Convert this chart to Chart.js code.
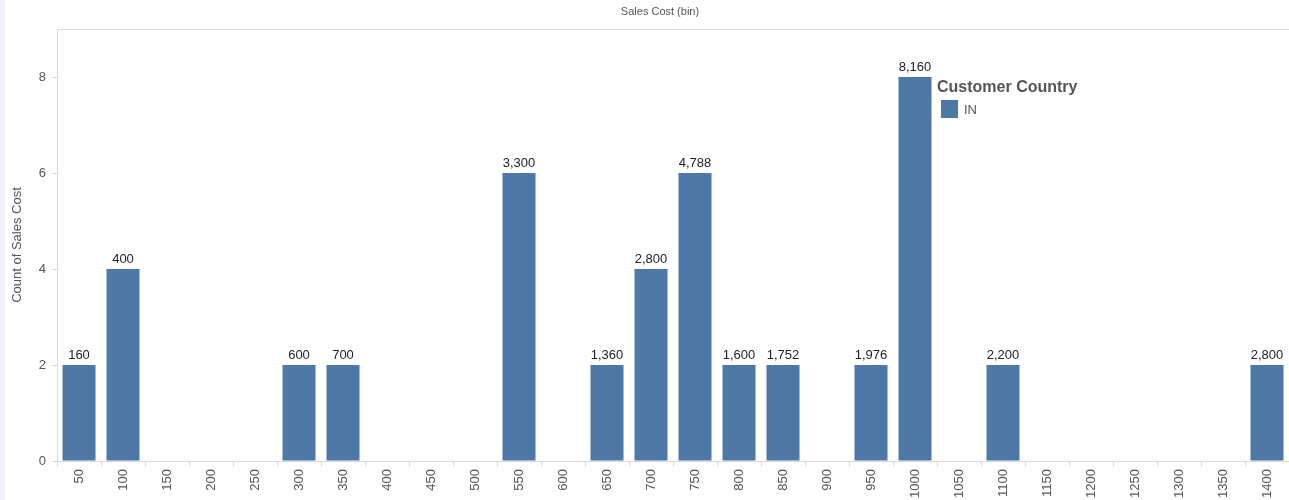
<!DOCTYPE html>
<html>
<head>
<meta charset="UTF-8">
<title>Sales Cost (bin)</title>
<script src="https://cdn.jsdelivr.net/npm/chart.js"></script>
<style>
  html, body { margin: 0; padding: 0; background: #fff; }
  #wrap { position: relative; width: 1289px; height: 500px; }
  #wrap:before { content: ""; position: absolute; left: 0; top: 0; width: 5px; height: 500px; background: #eef2f6; }
  #legend { position: absolute; left: 937px; top: 78px; font-family: "Liberation Sans", Arial, sans-serif; color: #555; }
  #legend .ttl { font-weight: bold; font-size: 16px; }
  #legend .row { margin-top: 4px; margin-left: 4px; font-size: 13px; display: flex; align-items: center; }
  #legend .sw { width: 17px; height: 18px; background: #4e79a7; margin-right: 6px; }
</style>
</head>
<body>
<div id="wrap">
  <canvas id="salesChart" width="1289" height="500"></canvas>
  <div id="legend"><div class="ttl">Customer Country</div><div class="row"><span class="sw"></span>IN</div></div>
</div>
<script>
// bins of sales cost
var bins = ['50','100','150','200','250','300','350','400','450','500','550','600','650','700',
            '750','800','850','900','950','1000','1050','1100','1150','1200','1250','1300','1350','1400'];
// count of sales cost per bin
var counts = [2,4,null,null,null,2,2,null,null,null,6,null,2,4,
              6,2,2,null,2,8,null,2,null,null,null,null,null,2];
// sum of sales cost shown on top of each bar
var sums = ['160','400','','','','600','700','','','','3,300','','1,360','2,800',
            '4,788','1,600','1,752','','1,976','8,160','','2,200','','','','','','2,800'];
var yTicks = [0,2,4,6,8];

var fontFam = '"Liberation Sans", Arial, sans-serif';

var textPlugin = {
    id: 'texts',
    afterDraw: function(chart){
        var ctx = chart.ctx, area = chart.chartArea;
        ctx.save();
        // top border
        ctx.strokeStyle = '#d9d9d9';
        ctx.lineWidth = 1;
        ctx.beginPath();
        ctx.moveTo(area.left, area.top + 0.5);
        ctx.lineTo(area.right, area.top + 0.5);
        ctx.stroke();
        // title
        ctx.fillStyle = '#555';
        ctx.font = '11px ' + fontFam;
        ctx.textAlign = 'center';
        ctx.textBaseline = 'middle';
        ctx.fillText('Sales Cost (bin)', 660, 12);
        // y axis title
        ctx.save();
        ctx.translate(17, 245);
        ctx.rotate(-Math.PI / 2);
        ctx.font = '13px ' + fontFam;
        ctx.fillText('Count of Sales Cost', 0, 0);
        ctx.restore();
        // value labels
        var meta = chart.getDatasetMeta(0);
        ctx.fillStyle = '#222';
        ctx.font = '13px ' + fontFam;
        ctx.textBaseline = 'bottom';
        meta.data.forEach(function(bar, i){
            if (counts[i] == null) return;
            ctx.fillText(sums[i], bar.x, bar.y - 3);
        });
        ctx.restore();
    }
};

var ctx = document.getElementById('salesChart').getContext('2d');
var salesChart = new Chart(ctx, {
    type: 'bar',
    data: {
        labels: bins,
        datasets: [{
            label: 'IN',
            data: counts,
            backgroundColor: '#4e79a7',
            categoryPercentage: 1,
            barPercentage: 0.75
        }]
    },
    options: {
        responsive: false,
        animation: false,
        layout: { padding: { top: 29, right: 0, left: 0, bottom: 0 } },
        plugins: {
            legend: { display: false },
            tooltip: { enabled: false }
        },
        scales: {
            x: {
                grid: { offset: true, drawOnChartArea: false, tickLength: 6, color: '#d9d9d9' },
                border: { color: '#d9d9d9' },
                ticks: {
                    minRotation: 90, maxRotation: 90, padding: 2,
                    color: '#555', font: { size: 13, family: fontFam }
                },
                afterFit: function(s){ s.height = 39; }
            },
            y: {
                min: 0, max: 9,
                afterBuildTicks: function(s){ s.ticks = yTicks.map(function(v){ return {value: v}; }); },
                grid: { drawOnChartArea: false, tickLength: 5, color: '#d9d9d9' },
                border: { color: '#d9d9d9' },
                ticks: { color: '#555', padding: 6, font: { size: 13, family: fontFam } },
                afterFit: function(s){ s.width = 57; }
            }
        }
    },
    plugins: [textPlugin]
});
</script>
</body>
</html>
